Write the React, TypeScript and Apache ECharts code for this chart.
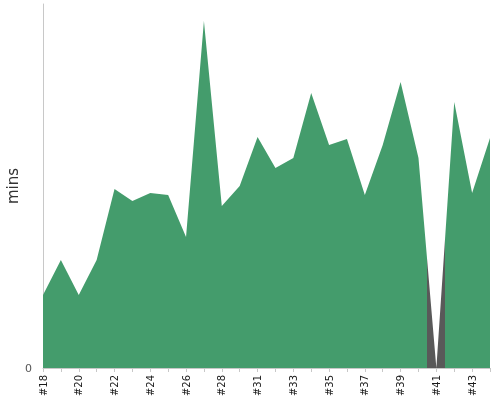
import React, { useEffect, useRef } from "react";
import * as echarts from "echarts";

const categories = ["#18", "#19", "#20", "#21", "#22", "#23", "#24", "#25", "#26", "#27", "#28", "#29", "#31", "#32", "#33", "#34", "#35", "#36", "#37", "#38", "#39", "#40", "#41", "#42", "#43", "#44"];
const minsValues = [40.1, 59.3, 40.1, 59.3, 98.4, 91.8, 96.2, 95.1, 72.0, 190.7, 89.0, 100.0, 126.9, 109.9, 115.4, 151.1, 122.5, 125.8, 95.1, 122.5, 157.1, 115.4, 0, 146.2, 96.2, 126.4];
const yTicks = [0, 200];
const highlightCategory = "#41";

export default function App() {
  const ref = useRef<HTMLDivElement>(null);
  useEffect(() => {
    if (!ref.current) return;
    const chart = echarts.init(ref.current, null, { renderer: "svg" });
    const points = minsValues.map((v, i) => [i, v]);
    const hi = categories.indexOf(highlightCategory);
    chart.setOption({
      animation: false,
      grid: { left: 43, right: 10, top: 4, bottom: 32, containLabel: false, outerBoundsMode: "none" },
      xAxis: {
        type: "value",
        min: 0,
        max: categories.length - 1,
        interval: 1,
        offset: 3,
        splitLine: { show: false },
        axisLine: { lineStyle: { color: "#c8c8c8" } },
        axisTick: { show: true, length: 4, lineStyle: { color: "#c8c8c8" } },
        axisLabel: {
          rotate: 90,
          fontSize: 10,
          color: "#1a1a1a",
          fontFamily: "DejaVu Sans",
          margin: 4,
          showMinLabel: true,
          showMaxLabel: true,
          formatter: (v: number) => (Math.round(v) % 2 === 0 ? categories[Math.round(v)] ?? "" : ""),
        },
      },
      yAxis: {
        type: "value",
        min: yTicks[0],
        max: yTicks[1],
        interval: yTicks[1] - yTicks[0],
        offset: 3,
        name: "mins",
        nameLocation: "middle",
        nameGap: 20,
        nameMoveOverlap: false,
        nameTextStyle: { fontSize: 15, color: "#333", fontFamily: "DejaVu Sans" },
        axisLine: { show: true, lineStyle: { color: "#c8c8c8" } },
        axisTick: { show: true, inside: true, length: 3, lineStyle: { color: "#c8c8c8" } },
        axisLabel: { showMaxLabel: false, fontSize: 11, color: "#555", fontFamily: "DejaVu Sans", margin: 8 },
        splitLine: { show: false },
      },
      visualMap: {
        show: false,
        type: "piecewise",
        dimension: 0,
        seriesIndex: 0,
        pieces: [{ gt: hi - 0.5, lte: hi + 0.5, color: "#595959" }],
        outOfRange: { color: "#449c6c" },
      },
      series: [
        {
          type: "line",
          data: points,
          showSymbol: false,
          symbol: "none",
          lineStyle: { width: 0 },
          areaStyle: { opacity: 1 },
        },
      ],
    });
    return () => chart.dispose();
  }, []);
  return <div ref={ref} style={{ position: "fixed", left: 0, top: 0, width: 500, height: 400 }} />;
}
